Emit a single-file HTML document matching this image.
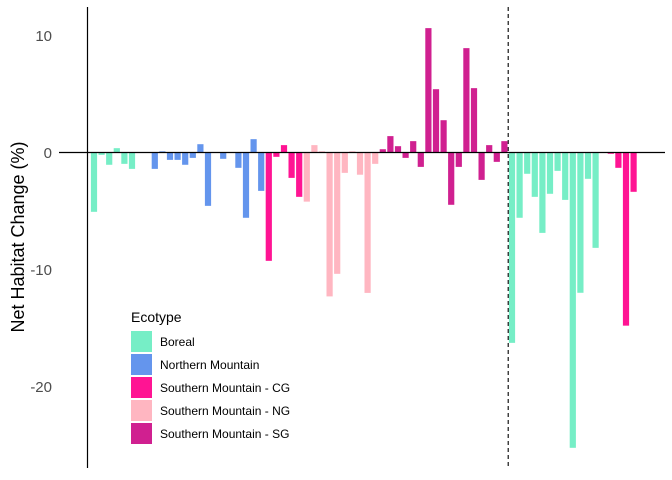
<!DOCTYPE html>
<html><head><meta charset="utf-8"><style>
body{margin:0;background:#fff}
svg{display:block;font-family:"Liberation Sans",sans-serif}
</style></head><body>
<svg id="chart" width="672" height="480">
<g id="bars"></g>
<line x1="87.5" y1="7" x2="87.5" y2="468" stroke="#000" stroke-width="1.2"/>
<line id="zero" x1="59" x2="665" stroke="#000" stroke-width="1.2"/>
<line id="dash" y1="7" y2="468" stroke="#000" stroke-width="1.1" stroke-dasharray="4,3"/>
<g id="ticks"></g>
<text transform="translate(24,237) rotate(-90)" text-anchor="middle" font-size="18" fill="#000">Net Habitat Change (%)</text>
<g>
<text x="131" y="322" font-size="14" fill="#000">Ecotype</text>
<g id="legend"></g>
</g>
</svg>
<script>
const ecotypes=["Boreal","Northern Mountain","Southern Mountain - CG","Southern Mountain - NG","Southern Mountain - SG"];
const colors=["#76EEC6","#6495ED","#FF1493","#FFB6C1","#D02090"];
// category index (0..71) -> value and ecotype index
const values=[-5.07,-0.2,-1.05,0.37,-0.97,-1.4,null,null,-1.4,0.1,-0.63,-0.63,-1.05,-0.46,0.71,-4.56,null,-0.54,null,-1.31,-5.58,1.14,-3.28,-9.26,-0.37,0.63,-2.17,-3.79,-4.2,0.63,0.1,-12.3,-10.37,-1.74,0.1,-1.9,-12.0,-0.97,0.28,1.4,0.54,-0.46,0.97,-1.23,10.63,5.41,2.76,-4.47,-1.23,8.92,5.5,-2.34,0.63,-0.8,0.97,-16.27,-5.58,-1.82,-3.79,-6.87,-3.53,-1.57,-4.05,-25.24,-11.99,-2.25,-8.15,null,-0.11,-1.31,-14.8,-3.36];
const groups=[0,0,0,0,0,0,0,0,1,1,1,1,1,1,1,1,1,1,1,1,1,1,1,2,2,2,2,2,3,3,3,3,3,3,3,3,3,3,4,4,4,4,4,4,4,4,4,4,4,4,4,4,4,4,4,0,0,0,0,0,0,0,0,0,0,0,0,2,2,2,2,2];
const yTicks=[10,0,-10,-20];
const dividerAt=54.5;
const NS="http://www.w3.org/2000/svg";
const y=v=>152.5-v*11.7;
const x=i=>94+i*7.6;
const bw=6.2;
document.getElementById('zero').setAttribute('y1',y(0));
document.getElementById('zero').setAttribute('y2',y(0));
const d=document.getElementById('dash');d.setAttribute('x1',x(dividerAt));d.setAttribute('x2',x(dividerAt));
const bars=document.getElementById('bars');
values.forEach((v,i)=>{
 if(v===null)return;
 const r=document.createElementNS(NS,'rect');
 r.setAttribute('x',x(i)-bw/2);
 r.setAttribute('width',bw);
 r.setAttribute('y',Math.min(y(v),y(0)));
 r.setAttribute('height',Math.abs(y(v)-y(0)));
 r.setAttribute('fill',colors[groups[i]]);
 
 
 bars.appendChild(r);
});
const tk=document.getElementById('ticks');
yTicks.forEach(t=>{
 const tx=document.createElementNS(NS,'text');
 tx.setAttribute('x',52);tx.setAttribute('y',y(t)+5.5);
 tx.setAttribute('text-anchor','end');tx.setAttribute('font-size','15');tx.setAttribute('fill','#4d4d4d');
 tx.textContent=t;
 
 
 tk.appendChild(tx);
});
const lg=document.getElementById('legend');
ecotypes.forEach((e,i)=>{
 const g=document.createElementNS(NS,'g');
 
 
 const r=document.createElementNS(NS,'rect');
 r.setAttribute('x',131);r.setAttribute('y',331+i*23);r.setAttribute('width',21);r.setAttribute('height',21);r.setAttribute('fill',colors[i]);
 
 
 const t=document.createElementNS(NS,'text');
 t.setAttribute('x',160);t.setAttribute('y',346+i*23);t.setAttribute('font-size','12');t.setAttribute('fill','#000');
 t.textContent=e;
 
 
 g.appendChild(r);g.appendChild(t);lg.appendChild(g);
});
</script>
</body></html>
